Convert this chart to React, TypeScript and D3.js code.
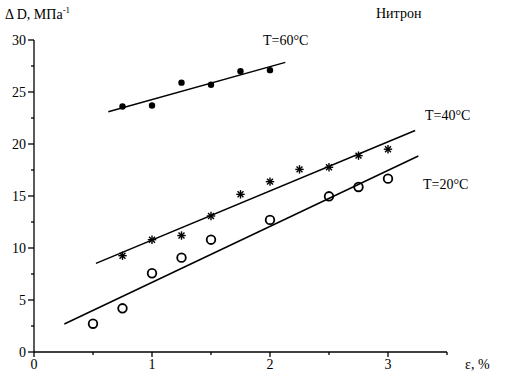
import React from "react";
import * as d3 from "d3";

const strain = [0.5, 0.75, 1.0, 1.25, 1.5, 1.75, 2.0, 2.25, 2.5, 2.75, 3.0];

const t60X = [0.75, 1.0, 1.25, 1.5, 1.75, 2.0];
const t60Y = [23.6, 23.7, 25.9, 25.7, 27.0, 27.1];
const t60Line = [[0.63, 23.1], [2.13, 27.85]];

const t40X = [0.75, 1.0, 1.25, 1.5, 1.75, 2.0, 2.25, 2.5, 2.75, 3.0];
const t40Y = [9.26, 10.8, 11.2, 13.08, 15.16, 16.38, 17.56, 17.76, 18.88, 19.5];
const t40Line = [[0.525, 8.52], [3.23, 21.3]];

const t20X = [0.5, 0.75, 1.0, 1.25, 1.5, 2.0, 2.5, 2.75, 3.0];
const t20Y = [2.72, 4.2, 7.57, 9.07, 10.8, 12.7, 14.97, 15.87, 16.67];
const t20Line = [[0.257, 2.69], [3.257, 18.85]];

const xMajor = [0, 1, 2, 3];
const xMinor = [0.5, 1.5, 2.5, 3.5];
const yMajor = [0, 5, 10, 15, 20, 25, 30];
const yMinor = [2.5, 7.5, 12.5, 17.5, 22.5, 27.5];

const FONT = "'Liberation Serif', 'Times New Roman', serif";

export default function App() {
  const W = 506, H = 381;
  const x = d3.scaleLinear().domain([0, 3.5]).range([34, 447]);
  const y = d3.scaleLinear().domain([0, 30]).range([352, 40]);
  const line = d3.line<number[]>().x((d) => x(d[0])).y((d) => y(d[1]));

  const star = (cx: number, cy: number, key: string) => {
    const r = 4.2;
    const segs = [0, 45, 90, 135].map((a) => {
      const rad = (a * Math.PI) / 180;
      return (
        <line key={a} x1={cx - r * Math.cos(rad)} y1={cy - r * Math.sin(rad)}
          x2={cx + r * Math.cos(rad)} y2={cy + r * Math.sin(rad)}
          stroke="#000" strokeWidth={1.4} />
      );
    });
    return <g key={key}>{segs}</g>;
  };

  return (
    <svg width={W} height={H} style={{ position: "absolute", left: 0, top: 0, background: "#fff" }}
      fontFamily={FONT}>
      <rect width={W} height={H} fill="#fff" />
      {/* axes */}
      <line x1={x(0)} x2={x(3.5)} y1={y(0)} y2={y(0)} stroke="#000" strokeWidth={1.3} />
      <line x1={x(0)} x2={x(0)} y1={y(0)} y2={y(30)} stroke="#000" strokeWidth={1.3} />
      {xMajor.map((v) => (
        <g key={"xm" + v}>
          <line x1={x(v)} x2={x(v)} y1={y(0)} y2={y(0) + 5} stroke="#000" strokeWidth={1.3} />
          <text x={x(v)} y={369} fontSize={14} textAnchor="middle">{v}</text>
        </g>
      ))}
      {xMinor.map((v) => (
        <line key={"xn" + v} x1={x(v)} x2={x(v)} y1={y(0)} y2={y(0) + 3} stroke="#000" strokeWidth={1.3} />
      ))}
      {yMajor.map((v) => (
        <g key={"ym" + v}>
          <line x1={x(0) - 6} x2={x(0)} y1={y(v)} y2={y(v)} stroke="#000" strokeWidth={1.3} />
          <text x={26} y={y(v) + 5} fontSize={14} textAnchor="end">{v}</text>
        </g>
      ))}
      {yMinor.map((v) => (
        <line key={"yn" + v} x1={x(0) - 3} x2={x(0)} y1={y(v)} y2={y(v)} stroke="#000" strokeWidth={1.3} />
      ))}

      {/* fit lines */}
      <path d={line(t60Line) || ""} stroke="#000" strokeWidth={1.5} fill="none" />
      <path d={line(t40Line) || ""} stroke="#000" strokeWidth={1.5} fill="none" />
      <path d={line(t20Line) || ""} stroke="#000" strokeWidth={1.5} fill="none" />

      {/* markers */}
      {t60X.map((v, i) => (
        <circle key={"a" + i} cx={x(v)} cy={y(t60Y[i])} r={3.2} fill="#000" />
      ))}
      {t40X.map((v, i) => star(x(v), y(t40Y[i]), "b" + i))}
      {t20X.map((v, i) => (
        <circle key={"c" + i} cx={x(v)} cy={y(t20Y[i])} r={4.3} fill="none" stroke="#000" strokeWidth={1.8} />
      ))}

      {/* labels */}
      <text x={5} y={19} fontSize={14}>
        {"Δ D, МПа"}
        <tspan fontSize={9} dy={-6}>-1</tspan>
      </text>
      <text x={376} y={18} fontSize={14}>Нитрон</text>
      <text x={263} y={45} fontSize={14}>T=60°C</text>
      <text x={425} y={120} fontSize={14}>T=40°C</text>
      <text x={423} y={189} fontSize={14}>T=20°C</text>
      <text x={465} y={369} fontSize={14}>ε, %</text>
    </svg>
  );
}
